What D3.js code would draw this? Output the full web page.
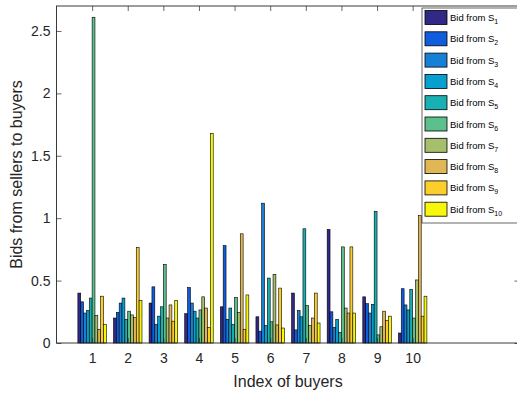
<!DOCTYPE html>
<html>
<head>
<meta charset="utf-8">
<script src="https://cdn.jsdelivr.net/npm/d3@7"></script>
<style>
  html, body { margin: 0; padding: 0; background: #fff; }
  svg { display: block; font-family: "Liberation Sans", Arial, Helvetica, sans-serif; }
</style>
</head>
<body>
<svg id="chart" width="517" height="397"></svg>
<script>
// Buyers on the x axis, one bar per seller inside each group
const buyers = [1, 2, 3, 4, 5, 6, 7, 8, 9, 10];
const sellers = ["1", "2", "3", "4", "5", "6", "7", "8", "9", "10"];

// bidSk[b]: bid from seller k to buyer b+1
const bidS1  = [0.40, 0.20, 0.32, 0.235, 0.29, 0.21, 0.40, 0.91, 0.37, 0.08];
const bidS2  = [0.33, 0.245, 0.45, 0.445, 0.78, 0.095, 0.105, 0.25, 0.315, 0.435];
const bidS3  = [0.24, 0.32, 0.15, 0.32, 0.19, 1.12, 0.26, 0.125, 0.24, 0.305];
const bidS4  = [0.26, 0.36, 0.215, 0.255, 0.28, 0.14, 0.21, 0.19, 0.31, 0.265];
const bidS5  = [0.36, 0.19, 0.29, 0.20, 0.15, 0.52, 0.915, 0.085, 1.055, 0.43];
const bidS6  = [2.61, 0.255, 0.63, 0.265, 0.365, 0.17, 0.30, 0.77, 0.065, 0.20];
const bidS7  = [0.22, 0.225, 0.20, 0.37, 0.245, 0.55, 0.14, 0.28, 0.13, 0.505];
const bidS8  = [0.11, 0.205, 0.305, 0.28, 0.875, 0.145, 0.20, 0.24, 0.255, 1.02];
const bidS9  = [0.375, 0.765, 0.175, 0.125, 0.11, 0.44, 0.40, 0.77, 0.18, 0.215];
const bidS10 = [0.15, 0.34, 0.34, 1.68, 0.385, 0.12, 0.16, 0.24, 0.215, 0.375];
const bids = [bidS1, bidS2, bidS3, bidS4, bidS5, bidS6, bidS7, bidS8, bidS9, bidS10];

const yTicks = [0, 0.5, 1, 1.5, 2, 2.5];
const xTicks = [1, 2, 3, 4, 5, 6, 7, 8, 9, 10];

// parula-like palette, one colour per seller
const colors = ["#302a86", "#0f5cdd", "#1680d8", "#079fcf", "#19b0b3",
                "#5bc08c", "#a5bf6a", "#dfb855", "#fcce2c", "#f7f70c"];

const svg = d3.select("#chart");
const L = 56.5, R = 519.5, T = 6, B = 343;

const x = d3.scaleLinear().domain([0, 13]).range([L, R]);
const y = d3.scaleLinear().domain([0, 2.7]).range([B, T]);

// group layout: 10 adjacent bars spanning 0.8 of a unit
const groupWidth = 0.8;
const slot = groupWidth / sellers.length;
const inner = d3.scaleBand().domain(d3.range(sellers.length))
  .range([-groupWidth / 2, groupWidth / 2]).padding(0);

const axisColor = "#262626";

// bars
const g = svg.append("g");
sellers.forEach((s, si) => {
  g.selectAll(null)
    .data(buyers)
    .enter()
    .append("rect")
    .attr("x", b => x(b + inner(si)))
    .attr("width", x(slot) - x(0))
    .attr("y", (b, bi) => y(bids[si][bi]))
    .attr("height", (b, bi) => y(0) - y(bids[si][bi]))
    .attr("fill", colors[si])
    .attr("stroke", "#000")
    .attr("stroke-width", 0.6);
});

// axes
const fmt = d => (d === 0 ? "0" : String(d));
const yAxisL = d3.axisLeft(y).tickValues(yTicks).tickSize(-5).tickPadding(6).tickFormat(fmt);
const yAxisR = d3.axisRight(y).tickValues(yTicks).tickSize(-5).tickFormat("");
const xAxisB = d3.axisBottom(x).tickValues(xTicks).tickSize(-5).tickPadding(10).tickFormat(d3.format("d"));
const xAxisT = d3.axisTop(x).tickValues(xTicks).tickSize(-5).tickFormat("");

function styleAxis(sel) {
  sel.select(".domain").remove();
  sel.selectAll("line").attr("stroke", axisColor).attr("stroke-width", 0.7);
  sel.selectAll("text").attr("fill", axisColor).attr("font-size", 14)
     .attr("font-family", "Liberation Sans, Arial, sans-serif");
}
svg.append("g").attr("transform", `translate(${L},0)`).call(yAxisL).call(styleAxis);
svg.append("g").attr("transform", `translate(${R},0)`).call(yAxisR).call(styleAxis);
svg.append("g").attr("transform", `translate(0,${B})`).call(xAxisB).call(styleAxis);
svg.append("g").attr("transform", `translate(0,${T})`).call(xAxisT).call(styleAxis);

// axes box
svg.append("rect")
  .attr("x", L).attr("y", T).attr("width", R - L).attr("height", B - T)
  .attr("fill", "none").attr("stroke", axisColor).attr("stroke-width", 0.9);

// axis labels
svg.append("text")
  .attr("x", (L + R) / 2).attr("y", 387)
  .attr("text-anchor", "middle").attr("font-size", 16).attr("fill", axisColor)
  .text("Index of buyers");
svg.append("text")
  .attr("transform", `translate(22,${(T + B) / 2}) rotate(-90)`)
  .attr("text-anchor", "middle").attr("font-size", 16).attr("fill", axisColor)
  .text("Bids from sellers to buyers");

// legend
const lg = svg.append("g").attr("transform", "translate(422,8)");
lg.append("rect").attr("x", 0).attr("y", 0).attr("width", 110).attr("height", 215)
  .attr("fill", "#fff").attr("stroke", axisColor).attr("stroke-width", 0.7);
const rowH = 21.3;
sellers.forEach((s, si) => {
  const cy = 9.5 + si * rowH;
  lg.append("rect").attr("x", 3).attr("y", cy - 7).attr("width", 22).attr("height", 14)
    .attr("fill", colors[si]).attr("stroke", "#000").attr("stroke-width", 0.8);
  const t = lg.append("text").attr("x", 28).attr("y", cy + 3.5)
    .attr("font-size", 9.5).attr("fill", "#000");
  t.append("tspan").text("Bid from S");
  t.append("tspan").attr("dy", 3).attr("font-size", 7).text(s);
});
</script>
</body>
</html>
